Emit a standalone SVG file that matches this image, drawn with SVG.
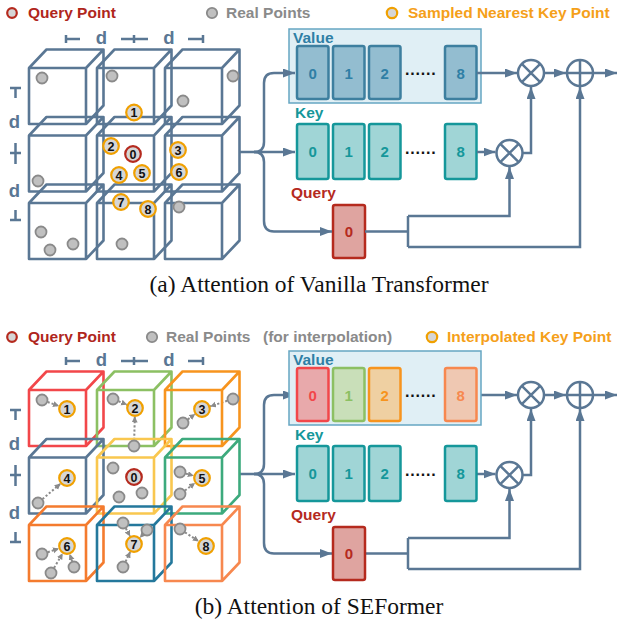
<svg xmlns="http://www.w3.org/2000/svg" xmlns:xlink="http://www.w3.org/1999/xlink" width="618" height="625" viewBox="0 0 618 625">
<style>
text{font-family:"Liberation Sans",Arial,sans-serif;font-weight:bold}
.cap{font-family:"Liberation Serif","Times New Roman",serif;font-weight:normal;font-size:23.5px;fill:#111}
.leg{font-size:15.5px}
.red{fill:#b0261c}.gry{fill:#8a8a8a}.org{fill:#f5a01a}
.dlab{font-size:18.5px;fill:#5a7794;text-anchor:middle}
.tick{stroke:#5a7794;stroke-width:2.5;fill:none}
.ln{fill:none;stroke:#5a7794;stroke-width:2.5}
.arr{marker-end:url(#ah)}
.dot{fill:none;stroke:#8a8a8a;stroke-width:2;stroke-dasharray:2.2 2;marker-end:url(#gh)}
.op{fill:#fff;stroke:#5a7794;stroke-width:2.5}
.gp{fill:#c0c0c0;stroke:#8a8a8a;stroke-width:1.8}
.kp{fill:#d6d6d6;stroke:#f0a000;stroke-width:2.2}
.qp{fill:#d6d6d6;stroke:#b52a1e;stroke-width:2.2}
.kn{font-size:12.5px;fill:#111;text-anchor:middle}
.lbl{font-size:15.5px}
.cn{font-size:15px;text-anchor:middle}
.vbox{fill:#e0eff5;stroke:#66a6c2;stroke-width:1.5}
.vc{fill:#93bdd0;stroke:#3d7f9f;stroke-width:2.5}
.kc{fill:#a0d5d6;stroke:#15979a;stroke-width:2.5}
.qc{fill:#dfa4a0;stroke:#b52a1e;stroke-width:2.5}
.dots{font-size:16px;letter-spacing:0.8px;fill:#111}
</style>
<defs>
<path id="cube" d="M0,0H57V56H0Z M0,0L17.5,-18.5H74.5L57,0 M74.5,-18.5V37.5L57,56" fill="none" stroke-width="2.6" stroke-linejoin="round"/>
<marker id="ah" markerUnits="userSpaceOnUse" markerWidth="13" markerHeight="10" refX="12" refY="4.5" orient="auto"><path d="M0,0L12,4.5L0,9Z" fill="#5a7794"/></marker>
<marker id="gh" markerUnits="userSpaceOnUse" markerWidth="7" markerHeight="7" refX="6" refY="3" orient="auto"><path d="M0,0L6,3L0,6Z" fill="#8a8a8a"/></marker>
</defs>

<!-- ================= (a) ================= -->
<g id="legend-a">
<circle cx="12" cy="13" r="4.8" class="qp" stroke-width="2.5"/>
<text x="28" y="18" class="leg red">Query Point</text>
<circle cx="212" cy="13" r="5.2" class="gp"/>
<text x="226" y="18" class="leg gry">Real Points</text>
<circle cx="392" cy="13" r="5.2" class="kp"/>
<text x="408" y="18" class="leg org">Sampled Nearest Key Point</text>
</g>

<g id="dims-a">
<path class="tick" d="M66,35V43M66,39H80M121,39H148M134,35V43M188,39H203M203,35V43"/>
<text x="101.5" y="43.5" class="dlab">d</text>
<text x="169" y="43.5" class="dlab">d</text>
<path class="tick" d="M10,88H21M15.5,88V98M10,153H21M15.5,143V164M15.5,210V220M10,220H21"/>
<text x="14.5" y="128" class="dlab">d</text>
<text x="14.5" y="197" class="dlab">d</text>
</g>

<g id="grid-a" stroke="#5a7794">
<use href="#cube" x="29" y="68"/><use href="#cube" x="97" y="68"/><use href="#cube" x="165" y="68"/>
<use href="#cube" x="29" y="135.5"/><use href="#cube" x="97" y="135.5"/><use href="#cube" x="165" y="135.5"/>
<use href="#cube" x="29" y="203"/><use href="#cube" x="97" y="203"/><use href="#cube" x="165" y="203"/>
</g>

<g id="points-a">
<circle class="gp" cx="42" cy="78" r="5.5"/><circle class="gp" cx="112" cy="76" r="5.5"/>
<circle class="gp" cx="233" cy="76" r="5.5"/><circle class="gp" cx="183" cy="101" r="5.5"/>
<circle class="gp" cx="38" cy="181" r="5.5"/><circle class="gp" cx="179" cy="207" r="5.5"/>
<circle class="gp" cx="41" cy="232" r="5.5"/><circle class="gp" cx="50" cy="250" r="5.5"/>
<circle class="gp" cx="73" cy="244" r="5.5"/><circle class="gp" cx="122" cy="244" r="5.5"/>
<g id="kp-a1"><circle class="kp" cx="134" cy="112.5" r="7.8"/><text class="kn" x="134" y="117">1</text></g>
<g id="kp-a2"><circle class="kp" cx="111" cy="146" r="7.8"/><text class="kn" x="111" y="150.5">2</text></g>
<g id="qp-a0"><circle class="qp" cx="133" cy="154" r="7.8"/><text class="kn" x="133" y="158.5">0</text></g>
<g id="kp-a3"><circle class="kp" cx="178" cy="150" r="7.8"/><text class="kn" x="178" y="154.5">3</text></g>
<g id="kp-a4"><circle class="kp" cx="119" cy="175" r="7.8"/><text class="kn" x="119" y="179.5">4</text></g>
<g id="kp-a5"><circle class="kp" cx="142" cy="173" r="7.8"/><text class="kn" x="142" y="177.5">5</text></g>
<g id="kp-a6"><circle class="kp" cx="179" cy="172" r="7.8"/><text class="kn" x="179" y="176.5">6</text></g>
<g id="kp-a7"><circle class="kp" cx="121" cy="202" r="7.8"/><text class="kn" x="121" y="206.5">7</text></g>
<g id="kp-a8"><circle class="kp" cx="148" cy="209" r="7.8"/><text class="kn" x="148" y="213.5">8</text></g>
</g>

<g id="value-a">
<rect class="vbox" x="289" y="29" width="192" height="74"/>
<text x="293" y="42.5" class="lbl" fill="#2f7fa5">Value</text>
<rect class="vc" x="297" y="46" width="31.5" height="53" rx="2"/><text class="cn" x="312.7" y="78.5" fill="#2f7fa5">0</text>
<rect class="vc" x="333" y="46" width="31.5" height="53" rx="2"/><text class="cn" x="348.7" y="78.5" fill="#2f7fa5">1</text>
<rect class="vc" x="369" y="46" width="31.5" height="53" rx="2"/><text class="cn" x="384.7" y="78.5" fill="#2f7fa5">2</text>
<text class="dots" x="405" y="74.5">......</text>
<rect class="vc" x="445" y="46" width="31.5" height="53" rx="2"/><text class="cn" x="460.7" y="78.5" fill="#2f7fa5">8</text>
</g>
<g id="key-a">
<text x="295" y="117.5" class="lbl" fill="#15979a">Key</text>
<rect class="kc" x="297" y="124" width="31.5" height="55" rx="2"/><text class="cn" x="312.7" y="157" fill="#15979a">0</text>
<rect class="kc" x="333" y="124" width="31.5" height="55" rx="2"/><text class="cn" x="348.7" y="157" fill="#15979a">1</text>
<rect class="kc" x="369" y="124" width="31.5" height="55" rx="2"/><text class="cn" x="384.7" y="157" fill="#15979a">2</text>
<text class="dots" x="405" y="153.5">......</text>
<rect class="kc" x="445" y="124" width="31.5" height="55" rx="2"/><text class="cn" x="460.7" y="157" fill="#15979a">8</text>
</g>
<g id="query-a">
<text x="291" y="197.5" class="lbl" fill="#b52a1e">Query</text>
<rect class="qc" x="333" y="205" width="32" height="53" rx="2"/><text class="cn" x="349" y="237" fill="#b52a1e">0</text>
</g>
<g id="ops-a">
<g id="mul-a1"><circle class="op" cx="531" cy="73" r="13"/><path class="ln" d="M521.8,63.8L540.2,82.2M540.2,63.8L521.8,82.2"/></g>
<g id="add-a"><circle class="op" cx="580" cy="73" r="13"/><path class="ln" d="M567,73H593M580,60V86"/></g>
<g id="mul-a2"><circle class="op" cx="509.5" cy="153" r="13"/><path class="ln" d="M500.3,143.8L518.7,162.2M518.7,143.8L500.3,162.2"/></g>
</g>

<g id="connectors">
<g id="conn-a">
<path class="ln arr" d="M239,152H295"/>
<path class="ln arr" d="M254,152Q264,152 264,142V83Q264,73 274,73H295"/>
<path class="ln arr" d="M254,152Q264,152 264,162V221Q264,231.5 274,231.5H332"/>
<path class="ln arr" d="M477,73H517"/>
<path class="ln arr" d="M544,73H566"/>
<path class="ln arr" d="M593,73H617"/>
<path class="ln arr" d="M477,152H495.5"/>
<path class="ln arr" d="M522.5,153H531V87"/>
<path class="ln" d="M365,231.5H408M408,216V247"/>
<path class="ln arr" d="M408,216H509.5V167"/>
<path class="ln arr" d="M408,247H580V87"/>
</g>
<g id="conn-b">
<g transform="translate(0,322)">
<path class="ln arr" d="M239,152H295"/>
<path class="ln arr" d="M254,152Q264,152 264,142V83Q264,73 274,73H295"/>
<path class="ln arr" d="M254,152Q264,152 264,162V221Q264,231.5 274,231.5H332"/>
<path class="ln arr" d="M477,73H517"/>
<path class="ln arr" d="M544,73H566"/>
<path class="ln arr" d="M593,73H617"/>
<path class="ln arr" d="M477,152H495.5"/>
<path class="ln arr" d="M522.5,153H531V87"/>
<path class="ln" d="M365,231.5H408M408,216V247"/>
<path class="ln arr" d="M408,216H509.5V167"/>
<path class="ln arr" d="M408,247H580V87"/>
</g>
<path class="dot" d="M47.6,402L59,406.1"/>
<path class="dot" d="M118.5,401.3L127.1,404.8"/>
<path class="dot" d="M134.2,440L134.8,416.5"/>
<path class="dot" d="M227.3,400.8L210.1,406.4"/>
<path class="dot" d="M187.8,419.4L195.2,414"/>
<path class="dot" d="M42.5,499.1L60.6,483.5"/>
<path class="dot" d="M185.8,473.6L193.8,475.8"/>
<path class="dot" d="M184.9,490.5L195.1,483"/>
<path class="dot" d="M47.7,552.2L58.9,548.6"/>
<path class="dot" d="M54.1,567.8L62.7,553.3"/>
<path class="dot" d="M72.1,561.3L69.7,554.1"/>
<path class="dot" d="M125.8,528.3L130.1,536.5"/>
<path class="dot" d="M142.9,534.4L139.8,537.8"/>
<path class="dot" d="M125.6,561.6L130.3,551.7"/>
<path class="dot" d="M185,532.3L198.9,541.4"/>
</g>
</g>

<text x="319" y="292" class="cap" text-anchor="middle">(a) Attention of Vanilla Transformer</text>

<!-- ================= (b) ================= -->
<g id="legend-b">
<circle cx="12" cy="337" r="4.8" class="qp" stroke-width="2.5"/>
<text x="28" y="342" class="leg red">Query Point</text>
<circle cx="152" cy="337" r="5.2" class="gp"/>
<text x="166" y="342" class="leg gry">Real Points<tspan x="263">(for interpolation)</tspan></text>
<circle cx="432" cy="337" r="5.2" class="kp"/>
<text x="447" y="342" class="leg org">Interpolated Key Point</text>
</g>

<g id="dims-b" transform="translate(0,322)">
<path class="tick" d="M66,35V43M66,39H80M121,39H148M134,35V43M188,39H203M203,35V43"/>
<text x="101.5" y="43.5" class="dlab">d</text>
<text x="169" y="43.5" class="dlab">d</text>
<path class="tick" d="M10,88H21M15.5,88V98M10,153H21M15.5,143V164M15.5,210V220M10,220H21"/>
<text x="14.5" y="128" class="dlab">d</text>
<text x="14.5" y="197" class="dlab">d</text>
</g>

<g id="grid-b">
<use id="cube-b1" href="#cube" x="29" y="390" stroke="#f2474a"/>
<use id="cube-b2" href="#cube" x="97" y="390" stroke="#8cc063"/>
<use id="cube-b3" href="#cube" x="165" y="390" stroke="#f7941e"/>
<use id="cube-b4" href="#cube" x="29" y="457.5" stroke="#5a7794"/>
<use id="cube-b0" href="#cube" x="97" y="457.5" stroke="#f9c74f"/>
<use id="cube-b5" href="#cube" x="165" y="457.5" stroke="#3daa7d"/>
<use id="cube-b6" href="#cube" x="29" y="525" stroke="#f47b2e"/>
<use id="cube-b7" href="#cube" x="97" y="525" stroke="#24789c"/>
<use id="cube-b8" href="#cube" x="165" y="525" stroke="#f7884f"/>
</g>

<g id="points-b">
<circle class="gp" cx="42" cy="400" r="5.5"/><circle class="gp" cx="113" cy="399" r="5.5"/>
<circle class="gp" cx="134" cy="446" r="5.5"/><circle class="gp" cx="233" cy="399" r="5.5"/>
<circle class="gp" cx="183" cy="423" r="5.5"/><circle class="gp" cx="38" cy="503" r="5.5"/>
<circle class="gp" cx="113" cy="468" r="5.5"/><circle class="gp" cx="119" cy="497" r="5.5"/>
<circle class="gp" cx="142" cy="493" r="5.5"/><circle class="gp" cx="180" cy="472" r="5.5"/>
<circle class="gp" cx="180" cy="494" r="5.5"/><circle class="gp" cx="42" cy="554" r="5.5"/>
<circle class="gp" cx="51" cy="573" r="5.5"/><circle class="gp" cx="74" cy="567" r="5.5"/>
<circle class="gp" cx="123" cy="523" r="5.5"/><circle class="gp" cx="147" cy="530" r="5.5"/>
<circle class="gp" cx="123" cy="567" r="5.5"/><circle class="gp" cx="180" cy="529" r="5.5"/>
<g id="kp-b1"><circle class="kp" cx="67" cy="409" r="7.8"/><text class="kn" x="67" y="413.5">1</text></g>
<g id="kp-b2"><circle class="kp" cx="135" cy="408" r="7.8"/><text class="kn" x="135" y="412.5">2</text></g>
<g id="kp-b3"><circle class="kp" cx="202" cy="409" r="7.8"/><text class="kn" x="202" y="413.5">3</text></g>
<g id="kp-b4"><circle class="kp" cx="67" cy="478" r="7.8"/><text class="kn" x="67" y="482.5">4</text></g>
<g id="qp-b0"><circle class="qp" cx="134" cy="477" r="7.8"/><text class="kn" x="134" y="481.5">0</text></g>
<g id="kp-b5"><circle class="kp" cx="202" cy="478" r="7.8"/><text class="kn" x="202" y="482.5">5</text></g>
<g id="kp-b6"><circle class="kp" cx="67" cy="546" r="7.8"/><text class="kn" x="67" y="550.5">6</text></g>
<g id="kp-b7"><circle class="kp" cx="134" cy="544" r="7.8"/><text class="kn" x="134" y="548.5">7</text></g>
<g id="kp-b8"><circle class="kp" cx="206" cy="546" r="7.8"/><text class="kn" x="206" y="550.5">8</text></g>
</g>

<g id="value-b" transform="translate(0,322)">
<rect class="vbox" x="289" y="29" width="192" height="74"/>
<text x="293" y="42.5" class="lbl" fill="#2f7fa5">Value</text>
<rect x="297" y="46" width="31.5" height="53" rx="2" fill="#e8a9ab" stroke="#f2474a" stroke-width="2.5"/><text class="cn" x="312.7" y="78.5" fill="#f2474a">0</text>
<rect x="333" y="46" width="31.5" height="53" rx="2" fill="#c9dfb9" stroke="#8cc063" stroke-width="2.5"/><text class="cn" x="348.7" y="78.5" fill="#8cc063">1</text>
<rect x="369" y="46" width="31.5" height="53" rx="2" fill="#efd0a2" stroke="#f7941e" stroke-width="2.5"/><text class="cn" x="384.7" y="78.5" fill="#f7941e">2</text>
<text class="dots" x="405" y="74.5">......</text>
<rect x="445" y="46" width="31.5" height="53" rx="2" fill="#efc8b2" stroke="#f7884f" stroke-width="2.5"/><text class="cn" x="460.7" y="78.5" fill="#f7884f">8</text>
</g>
<g id="key-b" transform="translate(0,322)">
<text x="295" y="117.5" class="lbl" fill="#15979a">Key</text>
<rect class="kc" x="297" y="124" width="31.5" height="55" rx="2"/><text class="cn" x="312.7" y="157" fill="#15979a">0</text>
<rect class="kc" x="333" y="124" width="31.5" height="55" rx="2"/><text class="cn" x="348.7" y="157" fill="#15979a">1</text>
<rect class="kc" x="369" y="124" width="31.5" height="55" rx="2"/><text class="cn" x="384.7" y="157" fill="#15979a">2</text>
<text class="dots" x="405" y="153.5">......</text>
<rect class="kc" x="445" y="124" width="31.5" height="55" rx="2"/><text class="cn" x="460.7" y="157" fill="#15979a">8</text>
</g>
<g id="query-b" transform="translate(0,322)">
<text x="291" y="197.5" class="lbl" fill="#b52a1e">Query</text>
<rect class="qc" x="333" y="205" width="32" height="53" rx="2"/><text class="cn" x="349" y="237" fill="#b52a1e">0</text>
</g>
<g id="ops-b" transform="translate(0,322)">
<g id="mul-b1"><circle class="op" cx="531" cy="73" r="13"/><path class="ln" d="M521.8,63.8L540.2,82.2M540.2,63.8L521.8,82.2"/></g>
<g id="add-b"><circle class="op" cx="580" cy="73" r="13"/><path class="ln" d="M567,73H593M580,60V86"/></g>
<g id="mul-b2"><circle class="op" cx="509.5" cy="153" r="13"/><path class="ln" d="M500.3,143.8L518.7,162.2M518.7,143.8L500.3,162.2"/></g>
</g>

<text x="319" y="614" class="cap" text-anchor="middle">(b) Attention of SEFormer</text>
</svg>
